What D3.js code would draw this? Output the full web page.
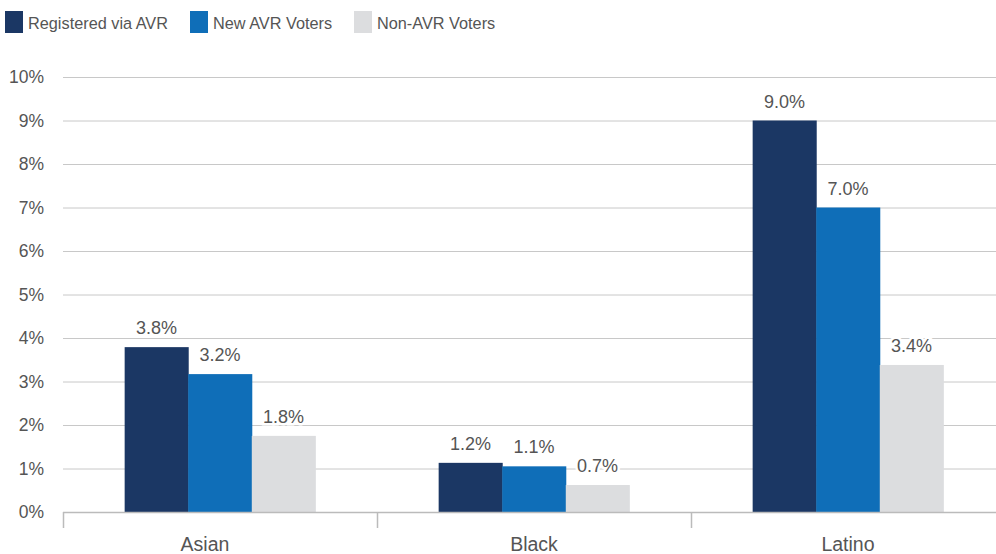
<!DOCTYPE html>
<html><head><meta charset="utf-8">
<script src="https://cdn.jsdelivr.net/npm/d3@7"></script>
<style>body{margin:0;background:#fff;}svg{display:block;font-family:"Liberation Sans",Arial,Helvetica,sans-serif;}</style>
</head><body>
<svg id="c" width="996" height="554"></svg>
<script>
const categories = ["Asian", "Black", "Latino"];
const seriesNames = ["Registered via AVR", "New AVR Voters", "Non-AVR Voters"];
const registeredViaAVR = [3.79, 1.13, 9.0];
const newAVRVoters = [3.17, 1.05, 7.0];
const nonAVRVoters = [1.75, 0.62, 3.38];
const registeredLabels = ["3.8%", "1.2%", "9.0%"];
const newLabels = ["3.2%", "1.1%", "7.0%"];
const nonLabels = ["1.8%", "0.7%", "3.4%"];
const yTicks = [0,1,2,3,4,5,6,7,8,9,10];
const colors = ["#1b3764", "#0f6eb8", "#dcdddf"];

const series = [registeredViaAVR, newAVRVoters, nonAVRVoters];
const labels = [registeredLabels, newLabels, nonLabels];
const svg = d3.select("#c");
const x0 = d3.scaleBand().domain(categories).range([63, 1005]).padding(0);
const x1 = d3.scaleBand().domain(seriesNames).range([0, x0.bandwidth()]).paddingInner(0).paddingOuter(0.97);
const y = d3.scaleLinear().domain([0, 10]).range([512, 77]);

// gridlines
svg.append("g").selectAll("line").data(yTicks.filter(t=>t>0)).join("line")
  .attr("x1", 63).attr("x2", 996).attr("y1", d=>y(d)+0.5).attr("y2", d=>y(d)+0.5)
  .attr("stroke", "#c8c8c8").attr("stroke-width", 1);

// y labels
svg.append("g").selectAll("text").data(yTicks).join("text")
  .attr("x", 44).attr("y", d=>y(d)+6).attr("text-anchor","end")
  .attr("font-size", 17.5).attr("fill", "#555").text(d=>d+"%");

// bars
const g = svg.append("g");
const tg = svg.append("g");
categories.forEach((c, ci) => {
  series.forEach((s, si) => {
    const v = s[ci];
    const bx = x0(c) + x1(seriesNames[si]);
    g.append("rect").attr("x", bx).attr("y", y(v)).attr("width", x1.bandwidth()+0.5)
      .attr("height", y(0)-y(v)).attr("fill", colors[si]);
    tg.append("text").attr("x", bx + x1.bandwidth()/2).attr("y", y(v)-13)
      .attr("text-anchor","middle").attr("font-size",18).attr("fill","#555")
      .attr("stroke","#fff").attr("stroke-width",5).attr("paint-order","stroke")
      .text(labels[si][ci]);
  });
});

// x axis
svg.append("line").attr("x1",63).attr("x2",996).attr("y1",512.5).attr("y2",512.5).attr("stroke","#bbb").attr("stroke-width",1.5);
svg.append("g").selectAll("line").data([0,1,2]).join("line")
  .attr("x1", d=>x0(categories[d])+0.5).attr("x2", d=>x0(categories[d])+0.5)
  .attr("y1", 512).attr("y2", 528).attr("stroke","#bbb").attr("stroke-width",1.5);
svg.append("g").selectAll("text").data(categories).join("text")
  .attr("x", d=>x0(d)+x0.bandwidth()/2).attr("dx", (d,i)=> i===0 ? -15 : 0)
  .attr("y", 551).attr("text-anchor","middle")
  .attr("font-size",19.5).attr("fill","#555").text(d=>d);

// legend
const legX = [5, 190, 354];
const lg = svg.append("g").selectAll("g").data(seriesNames).join("g")
  .attr("transform", (d,i)=>`translate(${legX[i]},11)`);
lg.append("rect").attr("width",18).attr("height",22).attr("fill",(d,i)=>colors[i]);
lg.append("text").attr("x",23).attr("y",18).attr("font-size",16.3).attr("fill","#555").text(d=>d);
</script>
</body></html>
